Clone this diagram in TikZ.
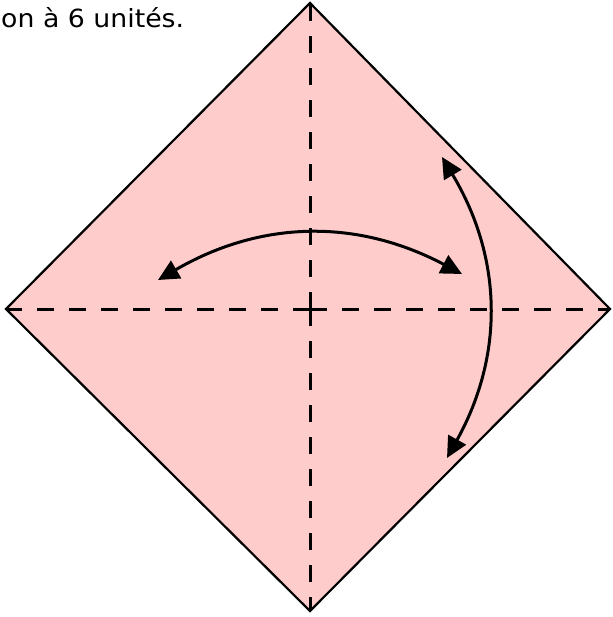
\documentclass[tikz,border=0pt]{standalone}
\usepackage{fontspec}
\setmainfont{DejaVu Sans}
\usetikzlibrary{arrows.meta}
\definecolor{paper}{HTML}{FFCCCC}
\tikzset{
  edgeline/.style={line width=2.2pt, line join=miter},
  foldline/.style={line width=3pt, dash pattern=on 17pt off 15pt},
  movearrow/.style={line width=3pt, {Triangle[length=21pt,width=20pt]}-{Triangle[length=21pt,width=20pt]}}
}
\begin{document}
\begin{tikzpicture}[x=1pt,y=1pt]
\useasboundingbox (0,0) rectangle (612,-617);
\coordinate (T) at (310,-3);
\coordinate (L) at (6,-309);
\coordinate (R) at (610,-309);
\coordinate (B) at (310,-611);
\coordinate (C) at (310,-309);
\fill[paper] (T) -- (R) -- (B) -- (L) -- cycle;
\draw[foldline] (C) -- (T);
\draw[foldline] (C) -- (B);
\draw[foldline] (C) -- (L);
\draw[foldline] (C) -- (R);
\draw[edgeline] (T) -- (R) -- (B) -- (L) -- cycle;
\coordinate (a1) at (158,-280);
\coordinate (a2) at (462,-274);
\coordinate (b1) at (442,-157);
\coordinate (b2) at (447,-458);
\draw[movearrow] (a1) to[bend left=29] (a2);
\draw[movearrow] (b1) to[bend left=30] (b2);
\node[anchor=base west, inner sep=0pt] (caption) at (1,-28) {\scalebox{1.07}[1]{\fontsize{25}{29}\selectfont on à 6 unités.}};
\end{tikzpicture}
\end{document}
